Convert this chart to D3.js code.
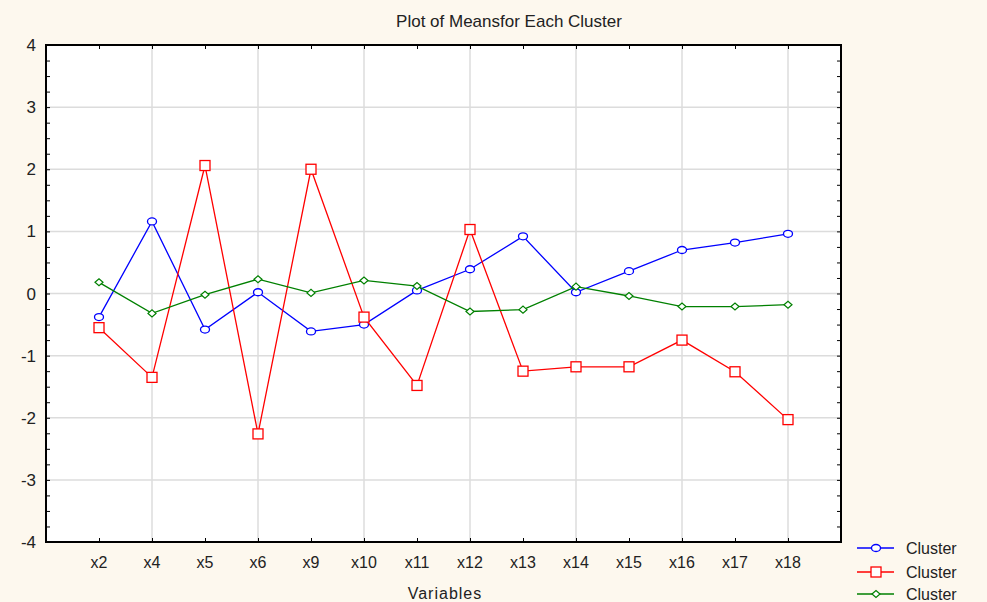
<!DOCTYPE html>
<html><head><meta charset="utf-8">
<script src="https://cdn.jsdelivr.net/npm/d3@7"></script>
<style>
html,body{margin:0;padding:0;background:#fdf8ee;}
svg{display:block;font-family:"Liberation Sans",Arial,sans-serif;}
</style></head>
<body>
<svg id="c" width="987" height="602"></svg>
<script>
const categories = ["x2","x4","x5","x6","x9","x10","x11","x12","x13","x14","x15","x16","x17","x18"];
const cluster1 = [-0.38,1.16,-0.58,0.02,-0.61,-0.50,0.05,0.39,0.92,0.02,0.36,0.70,0.82,0.96];
const cluster2 = [-0.55,-1.35,2.06,-2.26,2.00,-0.38,-1.48,1.03,-1.25,-1.18,-1.18,-0.75,-1.26,-2.03];
const cluster3 = [0.18,-0.32,-0.02,0.23,0.01,0.21,0.12,-0.29,-0.26,0.11,-0.04,-0.21,-0.21,-0.18];
const seriesNames = ["Cluster","Cluster","Cluster"];
const seriesColors = ["#0000ff","#ff0000","#008000"];
const yTicks = [-4,-3,-2,-1,0,1,2,3,4];
const title = "Plot of Meansfor Each Cluster";
const xTitle = "Variables";

const svg = d3.select("#c");
const L=46, R=841, T=45, B=542;
const x = d3.scalePoint().domain(categories).range([L,R]).padding(1);
const y = d3.scaleLinear().domain([-4,4]).range([B,T]);

svg.append("rect").attr("x",L).attr("y",T).attr("width",R-L).attr("height",B-T).attr("fill","#fff");

// grid
const gridCats = categories.filter((d,i)=>i%2===1);
svg.append("g").selectAll("line").data(gridCats).join("line")
  .attr("x1",d=>x(d)).attr("x2",d=>x(d)).attr("y1",T).attr("y2",B)
  .attr("stroke","#dcdcdc").attr("stroke-width",1.5);
svg.append("g").selectAll("line").data(yTicks.slice(1,-1)).join("line")
  .attr("x1",L).attr("x2",R).attr("y1",d=>y(d)).attr("y2",d=>y(d))
  .attr("stroke","#dcdcdc").attr("stroke-width",1.5);

// axes with inward ticks
const minor = d3.range(-4,4.001,0.25);
const yl = svg.append("g").attr("transform",`translate(${L},0)`)
  .call(d3.axisRight(y).tickValues(minor).tickSize(4).tickFormat(""));
const yr = svg.append("g").attr("transform",`translate(${R},0)`)
  .call(d3.axisLeft(y).tickValues(minor).tickSize(4).tickFormat(""));
const xb = svg.append("g").attr("transform",`translate(0,${B})`)
  .call(d3.axisTop(x).tickSize(4).tickFormat(""));
const xt = svg.append("g").attr("transform",`translate(0,${T})`)
  .call(d3.axisBottom(x).tickSize(4).tickFormat(""));
[yl,yr,xb,xt].forEach(g=>{g.select(".domain").remove();g.selectAll("line").attr("stroke","#000");});

svg.append("rect").attr("x",L).attr("y",T).attr("width",R-L).attr("height",B-T)
  .attr("fill","none").attr("stroke","#000").attr("stroke-width",2);

// tick labels
svg.append("g").selectAll("text").data(yTicks).join("text")
  .attr("x",36).attr("y",d=>y(d)+6).attr("text-anchor","end")
  .attr("font-size",17).attr("fill","#222").text(d=>d);
svg.append("g").selectAll("text").data(categories).join("text")
  .attr("x",d=>x(d)).attr("y",568).attr("text-anchor","middle")
  .attr("font-size",16).attr("fill","#222").text(d=>d);

svg.append("text").attr("x",509).attr("y",27).attr("text-anchor","middle")
  .attr("font-size",17).attr("fill","#222").text(title);
svg.append("text").attr("x",445).attr("y",599).attr("text-anchor","middle")
  .attr("font-size",16).attr("letter-spacing",1).attr("fill","#222").text(xTitle);

// series
const series = [cluster1,cluster2,cluster3];
const line = d3.line().x((d,i)=>x(categories[i])).y(d=>y(d));
function marker(g,k,cx,cy,col){
  if(k===0) g.append("ellipse").attr("cx",cx).attr("cy",cy).attr("rx",4.5).attr("ry",3.5).attr("fill","#fff").attr("stroke",col).attr("stroke-width",1.3);
  else if(k===1) g.append("rect").attr("x",cx-5).attr("y",cy-5).attr("width",10).attr("height",10).attr("fill","#fff").attr("stroke",col).attr("stroke-width",1.3);
  else g.append("path").attr("d",`M${cx-4},${cy}L${cx},${cy-3.5}L${cx+4},${cy}L${cx},${cy+3.5}Z`).attr("fill","#fff").attr("stroke",col).attr("stroke-width",1.2);
}
series.forEach((s,k)=>{
  const g = svg.append("g");
  g.append("path").datum(s).attr("d",line).attr("fill","none").attr("stroke",seriesColors[k]).attr("stroke-width",1.3);
  s.forEach((v,i)=>marker(g,k,x(categories[i]),y(v),seriesColors[k]));
});

// legend
const ly = [548,572,594];
seriesNames.forEach((n,k)=>{
  const g = svg.append("g");
  g.append("line").attr("x1",857).attr("x2",894).attr("y1",ly[k]).attr("y2",ly[k]).attr("stroke",seriesColors[k]).attr("stroke-width",1.3);
  marker(g,k,876,ly[k],seriesColors[k]);
  g.append("text").attr("x",906).attr("y",ly[k]+6).attr("font-size",16).attr("fill","#222").text(n);
});
</script>
</body></html>
